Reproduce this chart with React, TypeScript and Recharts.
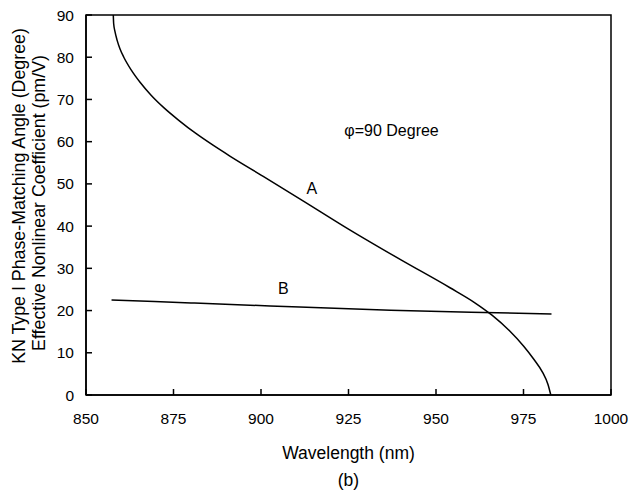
import React from 'react';
import { LineChart, Line, XAxis, YAxis, ReferenceArea, ReferenceDot } from 'recharts';

// curve A: phase-matching angle vs wavelength
const curveAWavelength = [857.8, 857.9, 858.3, 858.9, 859.7, 860.8, 862.9, 865.5, 868.6, 872.3, 876.6, 881.3, 886.4, 891.1, 900.0, 912.0, 925.0, 940.0, 954.0, 961.0, 966.0, 971.0, 975.0, 978.0, 980.5, 982.0, 982.8];
const curveAValue = [90, 88, 86, 84, 82, 80, 77, 74, 71, 68, 65, 62, 59.1, 56.6, 52.1, 46.0, 39.3, 32.0, 25.4, 21.9, 18.9, 15.2, 11.6, 8.4, 5.3, 2.5, 0];

// curve B: effective nonlinear coefficient
const curveBWavelength = [857.3, 880, 902.6, 937, 960, 983];
const curveBValue = [22.5, 21.8, 21.1, 20.1, 19.6, 19.2];

const xTicks = [850, 875, 900, 925, 950, 975, 1000];
const yTicks = [0, 10, 20, 30, 40, 50, 60, 70, 80, 90];

const annotations = [
    { x: 914.5, y: 49, text: 'A' },
    { x: 906.4, y: 25.3, text: 'B' },
    { x: 937.3, y: 62.8, text: 'φ=90 Degree' },
];

const dataA = curveAWavelength.map((w, i) => ({ w, v: curveAValue[i] }));
const dataB = curveBWavelength.map((w, i) => ({ w, v: curveBValue[i] }));

const FONT = '"Liberation Sans", Arial, sans-serif';

// ticks point inward, labels outside
const YTick = ({ x, y, payload }: any) => (
    <g>
        <line x1={x} y1={y} x2={x + 6} y2={y} stroke="#000" strokeWidth={1.5} />
        <text x={x - 12} y={y + 5.5} textAnchor="end" fontSize={15.5} fontFamily={FONT} fill="#000">
            {payload.value}
        </text>
    </g>
);

const XTick = ({ x, y, payload }: any) => (
    <g>
        <line x1={x} y1={y} x2={x} y2={y - 6} stroke="#000" strokeWidth={1.5} />
        <text x={x} y={y + 29} textAnchor="middle" fontSize={15.5} fontFamily={FONT} fill="#000">
            {payload.value}
        </text>
    </g>
);

const XTitle = ({ viewBox }: any) => {
    const cx = viewBox.x + viewBox.width / 2;
    return (
        <g fontFamily={FONT} fill="#000" textAnchor="middle">
            <text x={cx} y={viewBox.y + 64} fontSize={17.5}>Wavelength (nm)</text>
            <text x={cx} y={viewBox.y + 91} fontSize={17.5}>(b)</text>
        </g>
    );
};

const YTitle = () => (
    <g fontFamily={FONT} fill="#000" textAnchor="middle" fontSize={17.8}>
        <text x={19} y={196} transform="rotate(-90 19 196)" dy={6}>KN Type I Phase-Matching Angle (Degree)</text>
        <text x={38.5} y={203} transform="rotate(-90 38.5 203)" dy={6}>Effective Nonlinear Coefficient (pm/V)</text>
    </g>
);

export default function App() {
    return (
        <div style={{ position: 'absolute', left: 0, top: 0, background: '#fff' }}>
            <LineChart width={630} height={491} margin={{ top: 15, right: 19, left: 26, bottom: 36 }}>
                <XAxis
                    dataKey="w"
                    type="number"
                    domain={[850, 1000]}
                    ticks={xTicks}
                    height={60}
                    tickSize={0}
                    tickMargin={0}
                    tickLine={false}
                    axisLine={{ stroke: '#000', strokeWidth: 1.5 }}
                    tick={<XTick />}
                    interval={0}
                    label={<XTitle />}
                />
                <YAxis
                    type="number"
                    domain={[0, 90]}
                    ticks={yTicks}
                    width={60}
                    tickSize={0}
                    tickMargin={0}
                    tickLine={false}
                    axisLine={{ stroke: '#000', strokeWidth: 1.5 }}
                    tick={<YTick />}
                    interval={0}
                    label={<YTitle />}
                />
                <ReferenceArea x1={850} x2={1000} y1={0} y2={90} fill="none" stroke="#000" strokeWidth={1.5} fillOpacity={0} />
                <Line data={dataA} dataKey="v" type="monotone" stroke="#000" strokeWidth={1.5} dot={false} isAnimationActive={false} />
                <Line data={dataB} dataKey="v" type="monotone" stroke="#000" strokeWidth={1.5} dot={false} isAnimationActive={false} />
                {annotations.map((a) => (
                    <ReferenceDot
                        key={a.text}
                        x={a.x}
                        y={a.y}
                        r={0}
                        fill="none"
                        stroke="none"
                        label={{ value: a.text, position: 'center', fontSize: 16, fontFamily: FONT, fill: '#000' }}
                    />
                ))}
            </LineChart>
        </div>
    );
}
